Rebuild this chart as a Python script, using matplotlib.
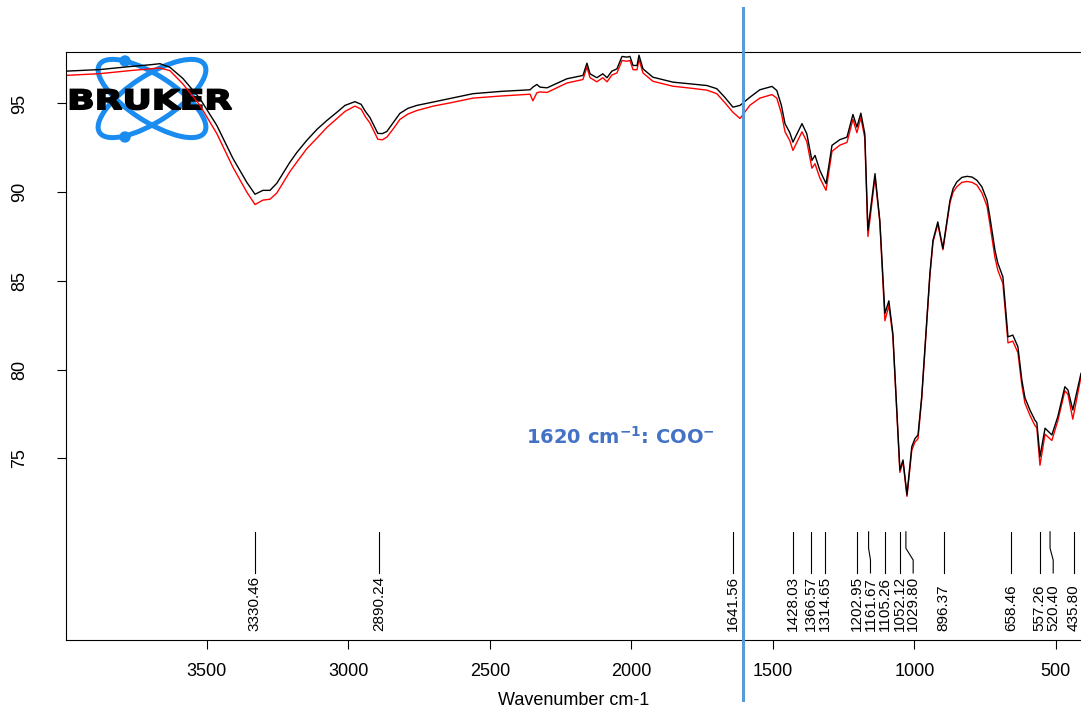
import matplotlib
matplotlib.use("Agg")
import matplotlib.pyplot as plt
import matplotlib.transforms as mtransforms
from matplotlib.patches import Ellipse, Circle, PathPatch
from matplotlib.textpath import TextPath
from matplotlib.font_manager import FontProperties

# spectrum: wavenumber (cm-1) and transmittance (%)
wavenumber = [3998, 3878, 3772, 3701, 3666, 3631, 3585, 3525, 3465, 3408,
              3359, 3330, 3302, 3277, 3253, 3207, 3182, 3147, 3111, 3076,
              3037, 3012, 2977, 2955, 2940, 2924, 2896, 2880, 2864, 2840,
              2818, 2790, 2758, 2700, 2641, 2560, 2460, 2358, 2348, 2334,
              2323, 2298, 2228, 2171, 2157, 2146, 2122, 2101, 2086, 2069,
              2051, 2033, 2016, 2005, 1994, 1980, 1973, 1959, 1924, 1853,
              1790, 1733, 1698, 1670, 1641, 1616, 1581, 1546, 1503, 1486,
              1470, 1457, 1440, 1429, 1397, 1380, 1362, 1351, 1334, 1312,
              1291, 1263, 1238, 1217, 1203, 1189, 1175, 1164, 1139, 1122,
              1104, 1090, 1076, 1051, 1040, 1026, 1009, 998, 987, 974,
              956, 945, 934, 917, 899, 874, 863, 850, 832, 814,
              796, 779, 761, 743, 733, 715, 705, 687, 669, 652,
              634, 620, 609, 591, 574, 567, 556, 538, 514, 493,
              468, 457, 440, 411]

sample_black = [96.82, 96.91, 97.08, 97.18, 97.24, 97.04, 96.41, 95.28, 93.76, 91.90,
                90.55, 89.88, 90.10, 90.10, 90.50, 91.68, 92.24, 92.92, 93.54, 94.04,
                94.55, 94.89, 95.10, 94.95, 94.55, 94.21, 93.31, 93.30, 93.42, 93.95,
                94.44, 94.72, 94.89, 95.08, 95.28, 95.55, 95.68, 95.77, 95.92, 96.07,
                95.92, 95.88, 96.39, 96.58, 97.27, 96.67, 96.45, 96.67, 96.45, 96.82,
                96.95, 97.65, 97.61, 97.65, 97.14, 97.14, 97.72, 96.95, 96.48, 96.20,
                96.10, 96.01, 95.83, 95.35, 94.79, 94.89, 95.35, 95.77, 95.96, 95.73,
                94.90, 93.86, 93.35, 92.82, 93.86, 93.29, 91.79, 92.07, 91.23, 90.48,
                92.64, 92.96, 93.10, 94.38, 93.67, 94.45, 93.29, 87.85, 91.04, 88.41,
                83.16, 83.87, 82.05, 74.34, 74.90, 72.93, 75.65, 76.10, 76.31, 78.45,
                82.78, 85.40, 87.29, 88.32, 86.82, 89.54, 90.20, 90.57, 90.83, 90.89,
                90.85, 90.67, 90.29, 89.54, 88.60, 86.72, 86.00, 85.22, 81.84, 81.94,
                81.28, 79.40, 78.40, 77.70, 77.15, 77.00, 75.09, 76.69, 76.31, 77.34,
                79.03, 78.84, 77.72, 79.78]

sample_red = [96.58, 96.68, 96.85, 96.95, 97.00, 96.85, 96.10, 94.90, 93.30, 91.40,
              90.00, 89.30, 89.55, 89.60, 89.95, 91.15, 91.70, 92.45, 93.05, 93.65,
              94.20, 94.55, 94.85, 94.68, 94.25, 93.90, 92.98, 92.95, 93.10, 93.60,
              94.10, 94.40, 94.60, 94.85, 95.03, 95.30, 95.42, 95.52, 95.15, 95.60,
              95.65, 95.62, 96.15, 96.35, 97.05, 96.45, 96.22, 96.45, 96.22, 96.60,
              96.72, 97.42, 97.38, 97.42, 96.90, 96.90, 97.48, 96.72, 96.25, 95.97,
              95.86, 95.75, 95.55, 95.05, 94.50, 94.15, 94.90, 95.30, 95.50, 95.30,
              94.45, 93.40, 92.90, 92.35, 93.40, 92.85, 91.35, 91.60, 90.80, 90.10,
              92.30, 92.65, 92.80, 94.10, 93.35, 94.20, 93.05, 87.50, 90.85, 88.30,
              82.75, 83.60, 81.90, 74.20, 74.80, 72.85, 75.45, 75.90, 76.10, 78.35,
              82.70, 85.30, 87.20, 88.20, 86.75, 89.40, 90.00, 90.30, 90.55, 90.60,
              90.55, 90.40, 89.95, 89.20, 88.20, 86.30, 85.60, 84.85, 81.50, 81.60,
              80.95, 79.10, 78.10, 77.40, 76.85, 76.70, 74.60, 76.35, 76.00, 77.10,
              78.80, 78.60, 77.20, 79.60]

peaks = [3330.46, 2890.24, 1641.56, 1428.03, 1366.57, 1314.65, 1202.95, 1161.67,
         1105.26, 1052.12, 1029.80, 896.37, 658.46, 557.26, 520.40, 435.80]

x_ticks = [3500, 3000, 2500, 2000, 1500, 1000, 500]
y_ticks = [75, 80, 85, 90, 95]
marker_wn = 1606
marker_text = "1620 cm$^{\\mathbf{-1}}$: COO$^{\\mathbf{-}}$"


def spread_labels(positions, gap):
    # push crowded labels apart, going from high to low wavenumber
    out = []
    for p in positions:
        if out and out[-1] - p < gap:
            p = out[-1] - gap
        out.append(p)
    return out


def draw_logo(ax, fig):
    # logo coordinates in pixels from the bottom-left corner of the figure
    pix = mtransforms.Affine2D().scale(1 / fig.dpi) + fig.dpi_scale_trans
    blue = "#1a8cf0"
    for ang in (33, -33):
        ax.add_patch(Ellipse((152, 610.5), 125, 46, angle=ang, fill=False,
                             edgecolor=blue, lw=3.6, transform=pix,
                             zorder=1.2, clip_on=False))
    for cy in (648, 572):
        ax.add_patch(Circle((125, cy), 5, color=blue, transform=pix,
                            zorder=1.2, clip_on=False))
    tp = TextPath((0, 0), "BRUKER", size=1,
                  prop=FontProperties(family="DejaVu Sans", weight="bold"))
    ext = tp.get_extents()
    tr = (mtransforms.Affine2D().translate(-ext.x0, -ext.y0)
          .scale(161 / ext.width, 20 / ext.height).translate(70.5, 599.5) + pix)
    ax.add_patch(PathPatch(tp, facecolor="black", edgecolor="black", lw=1.3,
                           transform=tr, zorder=1.3, clip_on=False))


def main():
    plt.rcParams["font.family"] = ["Liberation Sans", "DejaVu Sans"]
    fig = plt.figure(figsize=(10.81, 7.09), dpi=100)
    ax = fig.add_axes([66 / 1081, 69 / 709, 1015 / 1081, 588 / 709])

    ax.plot(wavenumber, sample_red, color="red", lw=1.0, zorder=2)
    ax.plot(wavenumber, sample_black, color="black", lw=1.0, zorder=2.1)

    ax.set_xlim(3998, 411)
    ax.set_ylim(64.75, 97.9)
    ax.set_xticks(x_ticks)
    ax.set_yticks(y_ticks)
    ax.tick_params(axis="x", length=6.5, width=0.8, pad=10, labelsize=13)
    ax.tick_params(axis="y", length=6.5, width=0.8, pad=21, labelsize=13,
                   labelrotation=90)
    for lab in ax.get_yticklabels():
        lab.set_va("center")
    ax.spines["right"].set_visible(False)
    for s in ("left", "top", "bottom"):
        ax.spines[s].set_linewidth(0.8)
    ax.set_xlabel("Wavenumber cm-1", fontsize=13, labelpad=9)

    # peak picks along the bottom
    xt = ax.get_xaxis_transform()
    label_pos = spread_labels(peaks, 48)
    for p, q in zip(peaks, label_pos):
        ax.plot([p, p, q, q], [0.184, 0.156, 0.136, 0.114], color="black",
                lw=0.8, transform=xt)
        ax.text(q, 0.0153, f"{p:.2f}", rotation=90, ha="center", va="bottom",
                fontsize=11, transform=xt)

    draw_logo(ax, fig)

    # marker line for the carboxylate band
    ax.axvline(marker_wn, ymin=-0.102, ymax=1.075, color="#5b9bd5", lw=2.2,
               clip_on=False, zorder=3)
    ax.text(2040, 76.2, marker_text, color="#4472c4", fontsize=14,
            fontweight="bold", family="DejaVu Sans", ha="center", va="center")

    fig.savefig("out.png", dpi=100)


if __name__ == "__main__":
    main()
